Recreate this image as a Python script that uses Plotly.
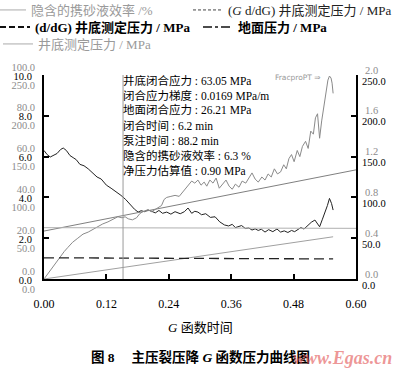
import plotly.graph_objects as go

# ---------------- data ----------------
G_ddg = [0.000, 0.006, 0.012, 0.018, 0.025, 0.032, 0.037, 0.043, 0.050, 0.056,
         0.062, 0.069, 0.077, 0.085, 0.094, 0.102, 0.110, 0.120, 0.129, 0.138,
         0.148, 0.157, 0.167, 0.174, 0.181, 0.187, 0.193, 0.200, 0.207, 0.214,
         0.221, 0.228, 0.236, 0.244, 0.252, 0.262, 0.270, 0.277, 0.284, 0.290,
         0.296, 0.303, 0.311, 0.320, 0.329, 0.338, 0.347, 0.355, 0.362, 0.368,
         0.373, 0.380, 0.387, 0.394, 0.400, 0.406, 0.412, 0.418, 0.425, 0.432,
         0.440, 0.448, 0.455, 0.462, 0.469, 0.476, 0.482, 0.488, 0.494, 0.500,
         0.508, 0.514, 0.521, 0.526, 0.530, 0.535, 0.540, 0.545, 0.549, 0.553,
         0.556]
ddg = [6.30, 6.10, 5.98, 6.05, 6.15, 6.35, 6.42, 6.30, 6.05, 5.95,
       5.85, 5.62, 5.55, 5.40, 5.20, 5.00, 4.90, 4.60, 4.45, 4.30,
       4.10, 3.90, 3.60, 3.42, 3.28, 3.35, 3.30, 3.38, 3.32, 3.24,
       3.36, 3.22, 3.28, 3.18, 3.30, 3.20, 3.30, 3.48, 3.22, 3.32,
       3.28, 3.15, 3.20, 3.02, 3.05, 2.80, 2.65, 2.60, 2.68, 2.52,
       2.56, 2.62, 2.48, 2.50, 2.40, 2.46, 2.38, 2.44, 2.30, 2.42,
       2.32, 2.45, 2.30, 2.36, 2.28, 2.38, 2.32, 2.40, 2.52, 2.45,
       2.65, 2.78, 2.89, 2.70, 2.56, 2.90, 3.22, 3.60, 3.95, 3.70,
       3.38]

G_gdg = [0.000, 0.007, 0.013, 0.022, 0.031, 0.039, 0.046, 0.055, 0.065, 0.075,
         0.085, 0.095, 0.104, 0.113, 0.123, 0.132, 0.142, 0.150, 0.156, 0.162,
         0.170, 0.178, 0.184, 0.190, 0.200, 0.207, 0.213, 0.220, 0.226, 0.231,
         0.236, 0.244, 0.252, 0.260, 0.266, 0.273, 0.279, 0.284, 0.290, 0.296,
         0.302, 0.308, 0.313, 0.319, 0.325, 0.331, 0.337, 0.343, 0.350, 0.356,
         0.362, 0.368, 0.375, 0.381, 0.388, 0.394, 0.400, 0.406, 0.412, 0.419,
         0.425, 0.431, 0.437, 0.443, 0.449, 0.455, 0.461, 0.466, 0.471, 0.476,
         0.481, 0.487, 0.492, 0.497, 0.503, 0.508, 0.513, 0.518, 0.522, 0.526,
         0.530, 0.534, 0.538, 0.542, 0.546, 0.549, 0.552, 0.554, 0.556]
gdg = [0.00, 0.05, 0.09, 0.16, 0.22, 0.27, 0.31, 0.36, 0.40, 0.44,
       0.46, 0.49, 0.51, 0.54, 0.56, 0.58, 0.61, 0.60, 0.61, 0.59,
       0.58, 0.60, 0.64, 0.66, 0.68, 0.66, 0.68, 0.70, 0.72, 0.78,
       0.80, 0.81, 0.82, 0.81, 0.85, 0.89, 0.93, 0.96, 0.94, 0.97,
       0.92, 0.95, 0.91, 0.97, 0.94, 0.99, 0.89, 0.93, 0.97, 0.91,
       0.88, 0.93, 0.90, 0.96, 0.94, 0.99, 1.04, 0.98, 0.95, 1.00,
       0.97, 1.03, 1.00, 1.08, 1.03, 1.05, 1.12, 1.08, 1.18, 1.22,
       1.15, 1.26, 1.20, 1.30, 1.35, 1.28, 1.45, 1.42, 1.58, 1.62,
       1.38, 1.55, 1.70, 1.82, 1.95, 1.99, 1.97, 1.92, 1.82]

G_bh = [0.0, 0.6]
bh_pressure = [62.9, 62.1]          # MPa, left 0-250 scale

G_surf = [0.0, 0.556]
surf_pressure = [26.0, 24.6]        # MPa, right 0-250 scale

G_eff = [0.0, 0.556]
efficiency = [0.0, 20.7]            # %, left 0-100 scale

G_tan = [0.0, 0.6]
tangent = [0.47, 1.07]              # right 0-2 scale

closure_G = 0.152

x_ticks = [0.0, 0.12, 0.24, 0.36, 0.48, 0.60]
x_ticktext = ["0.00", "0.12", "0.24", "0.36", "0.48", "0.60"]
y_ddg_ticks = [0, 2, 4, 6, 8, 10]
y_pct_ticks = [0, 20, 40, 60, 80, 100]
y_mpa_ticks = [0, 50, 100, 150, 200, 250]
y_gdg_ticks = [0.0, 0.4, 0.8, 1.2, 1.6, 2.0]

legend_names = [
    "隐含的携砂液效率 /%",
    "(<i>G</i> d/dG) 井底测定压力 / MPa",
    "(d/dG) 井底测定压力 / MPa",
    "地面压力 / MPa",
    "井底测定压力 / MPa",
]

info_lines = [
    "井底闭合应力 : 63.05 MPa",
    "闭合应力梯度 : 0.0169 MPa/m",
    "地面闭合应力 : 26.21 MPa",
    "闭合时间 : 6.2 min",
    "泵注时间 : 88.2 min",
    "隐含的携砂液效率 : 6.3 %",
    "净压力估算值 : 0.90 MPa",
]

# ---------------- styling ----------------
SERIF = "Liberation Serif, Noto Sans CJK SC"
GRAY_T = "#8c8c8c"
W, H = 400, 368
ML, MR, MT, MB = 44, 44, 75, 89
PW, PH = W - ML - MR, H - MT - MB

def px_x(X):
    return (X - ML) / PW

def px_y(Y):
    return (H - MB - Y) / PH

fig = go.Figure()

# legend entries: (name index, line colour, dash, width, text style, legend id, left px, top px)
leg_specs = [
    (0, "#aaaaaa", "solid",   1.0, "color:#9a9a9a", "legend",  -9, -5),
    (1, "#444444", "3px,2px", 1.0, "color:#222",    "legend2", 188, -5),
    (2, "#111111", "6px,3px", 2.0, "bold",          "legend3", -5, 12),
    (3, "#111111", "dashdot", 1.5, "bold",          "legend4", 198, 12),
    (4, "#aaaaaa", "solid",   1.0, "color:#9a9a9a", "legend5", -2, 29),
]
legend_layouts = {}
for idx, col, dash, w, style, lid, lx, ty in leg_specs:
    txt = legend_names[idx]
    if style == "bold":
        name = f"<b>{txt}</b>"
    else:
        name = f'<span style="{style}">{txt}</span>'
    fig.add_trace(go.Scatter(x=[None], y=[None], mode="lines", name=name, legend=lid,
                             line=dict(color=col, dash=dash, width=w)))
    legend_layouts[lid] = dict(x=px_x(lx), y=px_y(ty), xanchor="left", yanchor="top",
                               orientation="h", itemwidth=30,
                               font=dict(family=SERIF, size=13, color="#000"),
                               bgcolor="rgba(0,0,0,0)", borderwidth=0)

# data traces
fig.add_trace(go.Scatter(x=G_eff, y=efficiency, mode="lines", yaxis="y4",
                         line=dict(color="#a0a0a0", width=1), showlegend=False))
fig.add_trace(go.Scatter(x=G_bh, y=bh_pressure, mode="lines", yaxis="y3",
                         line=dict(color="#b0b0b0", width=1), showlegend=False))
fig.add_trace(go.Scatter(x=G_surf, y=surf_pressure, mode="lines", yaxis="y5",
                         line=dict(color="#222222", width=1.3, dash="10px,5px"),
                         showlegend=False))
fig.add_trace(go.Scatter(x=G_tan, y=tangent, mode="lines", yaxis="y2",
                         line=dict(color="#808080", width=1), showlegend=False))
fig.add_trace(go.Scatter(x=G_gdg, y=gdg, mode="lines", yaxis="y2",
                         line=dict(color="#8a8a8a", width=1), showlegend=False))
fig.add_trace(go.Scatter(x=G_ddg, y=ddg, mode="lines", yaxis="y",
                         line=dict(color="#222222", width=1), showlegend=False))

fig.add_vline(x=closure_G, line=dict(color="#9a9a9a", width=1))

tickfont_gray = dict(family="Liberation Serif", size=10.5, color=GRAY_T)
tickfont_black = dict(family="Liberation Serif", size=10.5, color="#000")

common_hidden = dict(overlaying="y", anchor="x", showgrid=False, zeroline=False,
                     showline=False, ticks="")

fig.update_layout(
    width=W, height=H,
    margin=dict(l=ML, r=MR, t=MT, b=MB, autoexpand=False),
    paper_bgcolor="white", plot_bgcolor="white",
    font=dict(family=SERIF, size=12, color="#000"),
    xaxis=dict(range=[0, 0.6], tickvals=x_ticks, ticktext=x_ticktext,
               ticks="inside", ticklen=5, tickwidth=1.5, tickcolor="#000",
               showline=True, linewidth=2, linecolor="#000",
               showgrid=False, zeroline=False,
               tickfont=dict(family="Liberation Serif", size=12, color="#000"),
               ticklabelstandoff=13),
    yaxis=dict(range=[0, 10], tickvals=y_ddg_ticks,
               ticktext=[f"{v:.1f}" for v in y_ddg_ticks],
               side="left", ticks="inside", ticklen=5, tickwidth=1.5, tickcolor="#000",
               showline=True, linewidth=2, linecolor="#000",
               showgrid=False, zeroline=False, tickfont=tickfont_black,
               ticklabelshift=1, ticklabelstandoff=8),
    yaxis4=dict(range=[0, 100], tickvals=y_pct_ticks,
                ticktext=[f"{v:.1f}" for v in y_pct_ticks],
                side="left", tickfont=tickfont_gray, ticklabelshift=-8,
                ticklabelstandoff=8, **common_hidden),
    yaxis3=dict(range=[0, 250], tickvals=y_mpa_ticks,
                ticktext=[f"{v:.1f}" for v in y_mpa_ticks],
                side="left", tickfont=tickfont_gray, ticklabelshift=10,
                ticklabelstandoff=8, **common_hidden),
    yaxis2=dict(range=[0, 2], tickvals=y_gdg_ticks,
                ticktext=[f"{v:.1f}" for v in y_gdg_ticks],
                overlaying="y", anchor="x", side="right",
                ticks="inside", ticklen=5, tickwidth=1.5, tickcolor="#000",
                showline=True, linewidth=2, linecolor="#000",
                showgrid=False, zeroline=False, tickfont=tickfont_gray,
                ticklabelshift=-5, ticklabelstandoff=5),
    yaxis5=dict(range=[0, 250], tickvals=y_mpa_ticks,
                ticktext=[f"{v:.1f}" for v in y_mpa_ticks],
                side="right", tickfont=tickfont_black, ticklabelshift=6,
                ticklabelstandoff=5, **common_hidden),
    **legend_layouts,
)

# info box text
for i, line in enumerate(info_lines):
    fig.add_annotation(xref="paper", yref="paper", x=px_x(121), y=px_y(80 + 15 * i),
                       xanchor="left", yanchor="middle", showarrow=False,
                       text=line, font=dict(family=SERIF, size=11.5, color="#000"))

fig.add_annotation(xref="paper", yref="paper", x=px_x(298), y=px_y(77),
                   xanchor="center", yanchor="middle", showarrow=False,
                   text="FracproPT ⇒", font=dict(family="DejaVu Sans", size=7.5, color="#999"))

fig.add_annotation(xref="paper", yref="paper", x=0.5, y=px_y(327),
                   xanchor="center", yanchor="middle", showarrow=False,
                   text="<i>G</i> 函数时间", font=dict(family=SERIF, size=13, color="#000"))

fig.add_annotation(xref="paper", yref="paper", x=0.5, y=px_y(357),
                   xanchor="center", yanchor="middle", showarrow=False,
                   text="<b>图 8　 主压裂压降 <i>G</i> 函数压力曲线图</b>",
                   font=dict(family=SERIF, size=13.5, color="#000"))

fig.add_annotation(xref="paper", yref="paper", x=px_x(342), y=px_y(358),
                   xanchor="center", yanchor="middle", showarrow=False,
                   text="<b><i>www.Egas.cn</i></b>",
                   font=dict(family="Liberation Serif", size=18, color="rgba(225,80,80,0.6)"))

fig.write_html("out.html", config={"displayModeBar": False},
               post_script="document.body.style.margin='0';document.body.style.padding='0';")
